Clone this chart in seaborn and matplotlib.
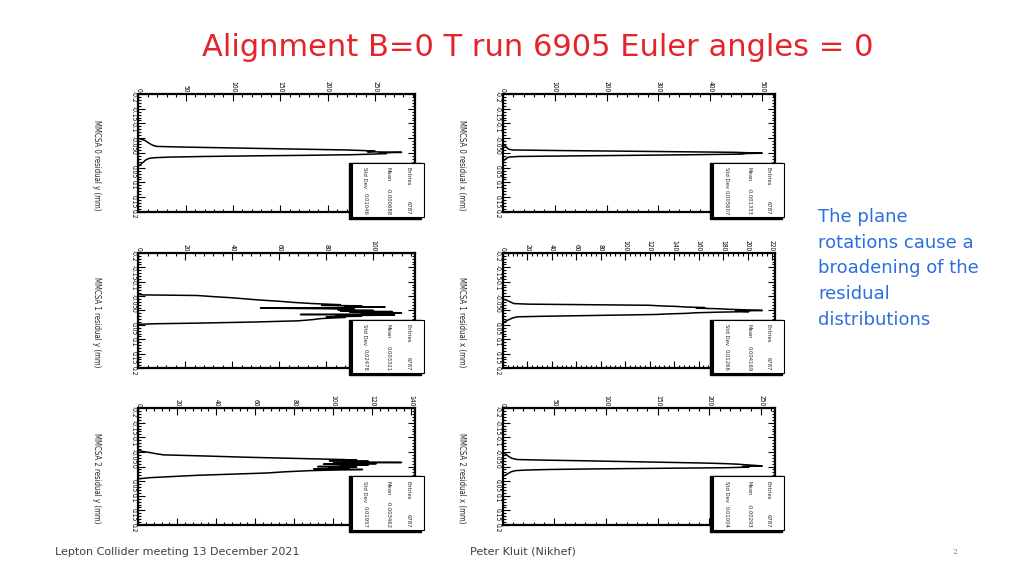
import numpy as np
import pandas as pd
import matplotlib
matplotlib.use("Agg")
import matplotlib.pyplot as plt
import seaborn as sns
from matplotlib import font_manager
from matplotlib.ticker import MultipleLocator, FuncFormatter
from matplotlib.patches import Rectangle

# ---- data (counts per residual bin, mm) ----
title = "Alignment B=0 T run 6905 Euler angles = 0"
note_lines = ["The plane", "rotations cause a", "broadening of the", "residual", "distributions"]
footer_left = "Lepton Collider meeting 13 December 2021"
footer_mid = "Peter Kluit (Nikhef)"
page_no = "2"

labels = ["MMCSA 0 residual y (mm)", "MMCSA 0 residual x (mm)",
          "MMCSA 1 residual y (mm)", "MMCSA 1 residual x (mm)",
          "MMCSA 2 residual y (mm)", "MMCSA 2 residual x (mm)"]
entries = ["6787", "6787", "6787", "6787", "6787", "6787"]
means = ["-0.000688", "-0.001333", "0.003321", "0.004169", "-0.003462", "-0.00293"]
stddevs = ["0.01046", "0.005607", "0.02478", "0.01266", "0.01957", "0.01004"]
count_steps = [50, 100, 20, 20, 20, 50]

resid_0y = [-0.050, -0.046, -0.044, -0.040, -0.036, -0.032, -0.028, -0.024, -0.022, -0.020,
            -0.018, -0.016, -0.014, -0.012, -0.010, -0.008, -0.006, -0.004, -0.002, 0.000,
            0.002, 0.004, 0.006, 0.008, 0.010, 0.012, 0.014, 0.016, 0.018, 0.022,
            0.026, 0.030, 0.034, 0.038, 0.042, 0.046]
counts_0y = [0, 3, 6, 8, 10, 12, 14, 17, 20, 45,
             80, 115, 150, 185, 220, 238, 250, 242, 278, 255,
             262, 248, 225, 180, 120, 70, 35, 18, 12, 9,
             7, 6, 4, 3, 1, 0]

resid_0x = [-0.030, -0.026, -0.022, -0.018, -0.014, -0.012, -0.010, -0.008, -0.006, -0.004,
            -0.002, 0.000, 0.001, 0.002, 0.004, 0.006, 0.008, 0.010, 0.012, 0.014,
            0.016, 0.020, 0.024, 0.028]
counts_0x = [0, 3, 6, 8, 10, 13, 20, 110, 230, 340,
             450, 480, 500, 470, 460, 370, 260, 140, 30, 12,
             9, 6, 3, 0]

resid_1y = [-0.056, -0.054, -0.052, -0.048, -0.044, -0.040, -0.036, -0.032, -0.028, -0.024,
            -0.020, -0.018, -0.016, -0.014, -0.012, -0.010, -0.008, -0.006, -0.004, -0.002,
            0.000, 0.002, 0.004, 0.006, 0.008, 0.010, 0.012, 0.014, 0.016, 0.018,
            0.020, 0.022, 0.024, 0.028, 0.032, 0.036, 0.040, 0.044, 0.046, 0.048]
counts_1y = [0, 2, 25, 32, 40, 46, 52, 60, 66, 74,
             86, 78, 95, 88, 105, 84, 52, 80, 92, 85,
             100, 86, 108, 90, 112, 95, 106, 69, 109, 84,
             95, 80, 88, 78, 74, 68, 50, 25, 8, 0]

resid_1x = [-0.040, -0.036, -0.032, -0.028, -0.024, -0.022, -0.020, -0.018, -0.016, -0.014,
            -0.012, -0.010, -0.008, -0.006, -0.004, -0.002, 0.000, 0.002, 0.004, 0.006,
            0.008, 0.010, 0.012, 0.014, 0.016, 0.018, 0.020, 0.022, 0.026, 0.030,
            0.034, 0.038, 0.042]
counts_1x = [0, 3, 5, 7, 9, 20, 70, 120, 128, 142,
             150, 165, 158, 176, 185, 200, 212, 190, 201, 175,
             158, 150, 135, 125, 95, 65, 35, 12, 8, 6,
             4, 2, 0]

resid_2y = [-0.056, -0.052, -0.048, -0.044, -0.040, -0.036, -0.032, -0.028, -0.024, -0.022,
            -0.020, -0.018, -0.016, -0.014, -0.012, -0.010, -0.008, -0.006, -0.004, -0.002,
            0.000, 0.002, 0.004, 0.006, 0.008, 0.010, 0.012, 0.014, 0.018, 0.022,
            0.026, 0.030, 0.034, 0.038, 0.042]
counts_2y = [0, 2, 6, 9, 13, 35, 55, 80, 105, 112,
             98, 118, 105, 135, 100, 122, 95, 118, 104, 110,
             92, 112, 98, 108, 90, 115, 100, 88, 75, 66,
             48, 30, 18, 6, 0]

resid_2x = [-0.048, -0.044, -0.040, -0.036, -0.032, -0.028, -0.024, -0.022, -0.020, -0.018,
            -0.016, -0.014, -0.012, -0.010, -0.008, -0.006, -0.004, -0.002, 0.000, 0.002,
            0.004, 0.006, 0.008, 0.010, 0.012, 0.014, 0.018, 0.022, 0.026, 0.030,
            0.034]
counts_2x = [0, 2, 4, 5, 7, 9, 14, 40, 75, 105,
             135, 165, 195, 215, 228, 235, 244, 251, 232, 238,
             215, 150, 90, 45, 22, 12, 8, 6, 4, 2,
             0]

resids = [resid_0y, resid_0x, resid_1y, resid_1x, resid_2y, resid_2x]
counts = [counts_0y, counts_0x, counts_1y, counts_1x, counts_2y, counts_2x]

# ---- layout (figure fractions) ----
col_left = [0.135, 0.491]
col_width = [0.270, 0.266]
row_bottom = [0.632, 0.361, 0.0885]
row_height = [0.205, 0.200, 0.203]

sns.set_theme(style="white")
plt.rcParams["font.family"] = ["DejaVu Sans"]


def find_face(names, bold=False):
    want = 700 if bold else 400
    for nm in names:
        for f in font_manager.fontManager.ttflist:
            if f.name == nm and f.style == "normal" and f.weight == want:
                return f.fname
    return None


# narrow upright face for the squeezed ROOT text, if one is installed
narrow = find_face(["Liberation Sans Narrow"])
narrow_b = find_face(["Liberation Sans Narrow"], bold=True) or narrow
if narrow:
    small = font_manager.FontProperties(fname=narrow_b, size=5.4)
    lab = font_manager.FontProperties(fname=narrow_b, size=6.2)
    tiny = font_manager.FontProperties(fname=narrow_b, size=4.8)
else:
    cond = None
    for f in font_manager.fontManager.ttflist:
        if f.stretch == "condensed" and f.style == "normal" and f.weight == 400:
            cond = f.fname
            break
    if cond:
        small = font_manager.FontProperties(fname=cond, size=4.8)
        lab = font_manager.FontProperties(fname=cond, size=5.6)
        tiny = font_manager.FontProperties(fname=cond, size=4.2)
    else:
        small = font_manager.FontProperties(family="DejaVu Sans", size=4.3)
        lab = font_manager.FontProperties(family="DejaVu Sans", size=5.0)
        tiny = font_manager.FontProperties(family="DejaVu Sans", size=3.8)

fmt = FuncFormatter(lambda v, p: "0" if abs(v) < 1e-9 else f"{v:g}")

fig = plt.figure(figsize=(10.24, 5.76), dpi=100)
fig.patch.set_facecolor("white")

for i in range(6):
    row, col = divmod(i, 2)
    ax = fig.add_axes([col_left[col], row_bottom[row], col_width[col], row_height[row]])
    df = pd.DataFrame({"resid": resids[i], "count": counts[i]})
    sns.lineplot(data=df, x="count", y="resid", orient="y", estimator=None,
                 color="black", linewidth=1.1, ax=ax)
    ax.set_ylim(0.2, -0.2)
    ax.set_xlim(0, 1.05 * max(counts[i]))
    ax.set_xlabel("")
    ax.set_ylabel("")
    ax.xaxis.set_major_locator(MultipleLocator(count_steps[i]))
    ax.xaxis.set_minor_locator(MultipleLocator(count_steps[i] / 5))
    ax.yaxis.set_major_locator(MultipleLocator(0.05))
    ax.yaxis.set_minor_locator(MultipleLocator(0.01))
    ax.xaxis.set_major_formatter(fmt)
    ax.yaxis.set_major_formatter(fmt)
    ax.tick_params(which="both", direction="in", top=True, bottom=True, left=True, right=True,
                   labeltop=True, labelbottom=False, colors="black", width=0.8, pad=1.2)
    ax.tick_params(which="major", length=5)
    ax.tick_params(which="minor", length=2.5)
    ax.tick_params(axis="x", labelrotation=-90)
    ax.tick_params(axis="y", labelrotation=-90)
    for tl in ax.get_xticklabels() + ax.get_yticklabels():
        tl.set_fontproperties(small)
    for s in ax.spines.values():
        s.set_linewidth(1.6)
        s.set_color("black")

    ax.text(-0.15, 0.01, labels[i], transform=ax.transAxes, rotation=-90,
            rotation_mode="anchor", ha="right", va="center", fontproperties=lab)

    # stats box (rotated with the plot, so it sits bottom right)
    ax.add_patch(Rectangle((0.762, -0.06), 0.262, 0.475, transform=ax.transAxes,
                           facecolor="black", edgecolor="black", clip_on=False, zorder=5))
    ax.add_patch(Rectangle((0.772, -0.045), 0.26, 0.46, transform=ax.transAxes,
                           facecolor="white", edgecolor="black", linewidth=0.8,
                           clip_on=False, zorder=6))
    for xc, name, val in [(0.975, "Entries", entries[i]), (0.905, "Mean", means[i]),
                          (0.82, "Std Dev", stddevs[i])]:
        ax.text(xc, 0.38, name, transform=ax.transAxes, rotation=-90, ha="center",
                va="top", fontproperties=tiny, zorder=7)
        ax.text(xc, -0.025, val, transform=ax.transAxes, rotation=-90, ha="center",
                va="bottom", fontproperties=tiny, zorder=7)

fig.text(538 / 1024, 1 - 47 / 576, title, ha="center", va="center",
         fontsize=22, color="#e3242b")
for k, line in enumerate(note_lines):
    fig.text(818 / 1024, 1 - (217 + 25.7 * k) / 576, line, ha="left", va="center",
             fontsize=13, color="#2a6fe0")
fig.text(55 / 1024, 1 - 552 / 576, footer_left, ha="left", va="center",
         fontsize=8, color="#404040")
fig.text(470 / 1024, 1 - 552 / 576, footer_mid, ha="left", va="center",
         fontsize=8, color="#404040")
fig.text(955 / 1024, 1 - 552 / 576, page_no, ha="center", va="center",
         fontsize=5.5, family="serif", color="#808080")

fig.savefig("out.png", dpi=100, facecolor="white")
